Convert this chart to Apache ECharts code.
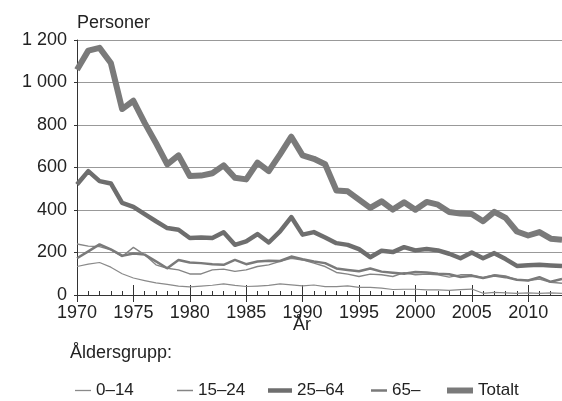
<!DOCTYPE html>
<html>
<head>
<meta charset="utf-8">
<script src="https://cdn.jsdelivr.net/npm/echarts@6/dist/echarts.min.js"></script>
<style>
  html, body { margin: 0; padding: 0; background: #fff; }
  #chart { width: 562px; height: 401px; }
</style>
</head>
<body>
<div id="chart"></div>
<script>
window.addEventListener('load', function () {

    // data
    const years = [];
    for (let y = 1970; y <= 2013; y++) years.push(y);

    const age0_14 = [134, 145, 153, 131, 100, 80, 68, 57, 50, 42, 38, 42, 46, 52, 45, 40, 42, 45, 52, 48,
        43, 47, 39, 39, 43, 36, 36, 32, 26, 27, 27, 24, 24, 22, 25, 28, 8, 12, 10, 8, 10, 8, 10, 8];
    const age15_24 = [240, 230, 228, 213, 181, 224, 189, 142, 126, 118, 99, 99, 118, 122, 111, 118, 134, 142, 158, 173,
        165, 150, 134, 106, 98, 87, 98, 95, 87, 105, 95, 98, 95, 84, 95, 95, 82, 95, 90, 71, 68, 75, 60, 55];
    const age25_64 = [520, 583, 536, 525, 433, 415, 381, 347, 315, 307, 268, 271, 268, 295, 236, 252, 287, 247, 299, 367,
        284, 296, 271, 244, 236, 216, 178, 208, 202, 225, 210, 216, 210, 194, 173, 200, 173, 197, 169, 137, 140, 142, 139, 137];
    const age65 = [173, 205, 238, 215, 185, 195, 190, 158, 126, 165, 153, 150, 145, 142, 165, 145, 158, 161, 160, 181,
        168, 158, 150, 125, 118, 112, 125, 110, 105, 100, 108, 106, 100, 98, 85, 90, 80, 92, 84, 72, 68, 84, 62, 76];
    const totalt = [1060, 1150, 1163, 1092, 875, 914, 810, 715, 615, 657, 560, 562, 573, 610, 552, 544, 623, 583, 662, 745,
        657, 641, 615, 492, 488, 449, 410, 441, 402, 436, 401, 438, 425, 391, 383, 381, 347, 391, 363, 299, 280, 296, 265, 260];

    const seriesNames = ['0–14', '15–24', '25–64', '65–', 'Totalt'];
    const yTicks = [0, 200, 400, 600, 800, 1000, 1200];

    const font = 'Liberation Sans, Arial, sans-serif';
    const textColor = '#222';

    function pairs(vals) {
        return vals.map(function (v, i) { return [years[i], v]; });
    }

    function makeSeries(name, vals, width, color, z) {
        return {
            name: name,
            type: 'line',
            data: pairs(vals),
            symbol: 'none',
            z: z,
            lineStyle: { width: width, color: color, join: 'round' },
            itemStyle: { color: color }
        };
    }

    function makeLegend(name, left, w, h) {
        return {
            data: [name],
            left: left,
            top: 377,
            icon: 'rect',
            itemWidth: w,
            itemHeight: h,
            itemGap: 0,
            textStyle: { fontFamily: font, fontSize: 17, color: textColor },
            selectedMode: false
        };
    }

    let myChart = echarts.init(document.querySelector('#chart'));

    let option = {
        backgroundColor: '#fff',
        animation: false,
        grid: { left: 77, right: 0, top: 40, bottom: 106 },
        xAxis: [{
            type: 'value',
            min: 1970,
            max: 2013,
            interval: 5,
            axisLine: { show: true, lineStyle: { color: '#333', width: 1 } },
            axisTick: { show: true, inside: false, length: 7, lineStyle: { color: '#333' } },
            axisLabel: {
                fontFamily: font, fontSize: 18, color: textColor, margin: 9, showMaxLabel: false,
                formatter: function (v) { return String(v); }
            },
            splitLine: { show: false }
        }, {
            type: 'value',
            position: 'bottom',
            min: 1970,
            max: 2013,
            interval: 5,
            axisLine: { show: false },
            axisTick: { show: true, inside: true, length: 10, lineStyle: { color: '#333' } },
            minorTick: { show: true, splitNumber: 5, length: 4, lineStyle: { color: '#333' } },
            axisLabel: { show: false },
            splitLine: { show: false }
        }],
        yAxis: {
            type: 'value',
            min: 0,
            max: 1200,
            interval: 200,
            name: 'Personer',
            nameLocation: 'end',
            nameGap: 8,
            nameTextStyle: { fontFamily: font, fontSize: 18, color: textColor, align: 'left' },
            axisLine: { show: true, lineStyle: { color: '#333', width: 1 } },
            axisTick: { show: true, length: 3, lineStyle: { color: '#333' } },
            axisLabel: {
                fontFamily: font, fontSize: 18, color: textColor, margin: 10,
                formatter: function (v) {
                    return yTicks.indexOf(v) >= 0 ? String(v).replace(/\B(?=(\d{3})+(?!\d))/g, ' ') : '';
                }
            },
            splitLine: { show: true, lineStyle: { color: '#999', width: 1 } }
        },
        legend: [
            makeLegend(seriesNames[0], 70, 16, 1.3),
            makeLegend(seriesNames[1], 172, 16, 1.5),
            makeLegend(seriesNames[2], 263, 24, 4.5),
            makeLegend(seriesNames[3], 366, 16, 2.5),
            makeLegend(seriesNames[4], 442, 26, 6)
        ],
        graphic: [{
            type: 'text',
            left: 293,
            top: 316,
            style: { text: 'År', font: '18px ' + font, fill: textColor }
        }, {
            type: 'text',
            left: 70,
            top: 344,
            style: { text: 'Åldersgrupp:', font: '18px ' + font, fill: textColor }
        }],
        series: [
            makeSeries(seriesNames[0], age0_14, 1.2, '#8a8a8a', 2),
            makeSeries(seriesNames[1], age15_24, 1.4, '#858585', 3),
            makeSeries(seriesNames[2], age25_64, 4.5, '#6e6e6e', 4),
            makeSeries(seriesNames[3], age65, 2.5, '#7a7a7a', 3),
            makeSeries(seriesNames[4], totalt, 6, '#7a7a7a', 5)
        ]
    };

    myChart.setOption(option);
});
</script>
</body>
</html>
